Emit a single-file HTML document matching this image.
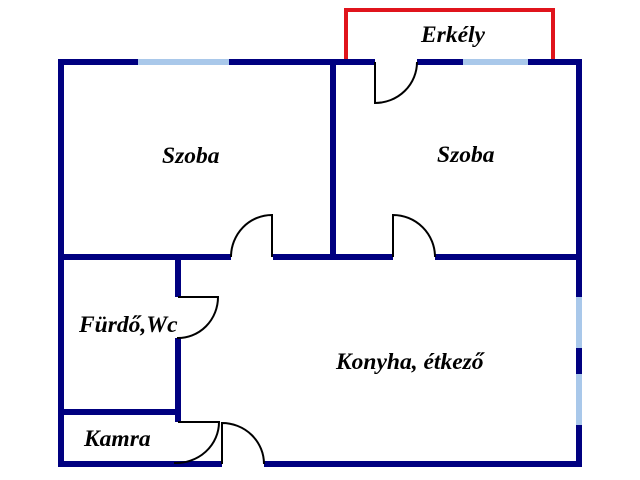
<!DOCTYPE html>
<html><head><meta charset="utf-8"><style>
html,body{margin:0;padding:0;background:#fff;}
svg{display:block;}
text{font-family:"Liberation Serif",serif;font-weight:bold;font-style:italic;font-size:23.5px;fill:#000;}
</style></head><body>
<svg width="640" height="480" viewBox="0 0 640 480">
<polyline points="346,62 346,10 553,10 553,62" fill="none" stroke="#e0141c" stroke-width="4"/>
<g stroke="#000080" stroke-width="6" fill="none" stroke-linecap="butt">
<line x1="58" y1="62" x2="375" y2="62"/>
<line x1="417" y1="62" x2="582" y2="62"/>
<line x1="61" y1="59" x2="61" y2="467"/>
<line x1="579" y1="59" x2="579" y2="467"/>
<line x1="58" y1="464" x2="222" y2="464"/>
<line x1="264" y1="464" x2="582" y2="464"/>
<line x1="333" y1="62" x2="333" y2="257"/>
<line x1="61" y1="257" x2="231" y2="257"/>
<line x1="273" y1="257" x2="393" y2="257"/>
<line x1="435" y1="257" x2="579" y2="257"/>
<line x1="178" y1="257" x2="178" y2="297"/>
<line x1="178" y1="338" x2="178" y2="422"/>
<line x1="61" y1="412" x2="178" y2="412"/>
</g>
<g stroke="#a9c8ea" stroke-width="6">
<line x1="138" y1="62" x2="229" y2="62"/>
<line x1="463" y1="62" x2="528" y2="62"/>
<line x1="579" y1="297" x2="579" y2="348"/>
<line x1="579" y1="374" x2="579" y2="425"/>
</g>
<g stroke="#000" stroke-width="2" fill="none">
<path d="M375,62 L375,103 A42,41 0 0 0 417,62"/>
<path d="M272,257 L272,215 A41,42 0 0 0 231,257"/>
<path d="M393,257 L393,215 A42,42 0 0 1 435,257"/>
<path d="M178,297 L218,297 A40,41 0 0 1 177,338"/>
<path d="M178,422 L219,422 A43,41 0 0 1 174,463"/>
<path d="M222,464 L222,423 A42,41 0 0 1 264,464"/>
</g>
<text x="421" y="42">Erkély</text>
<text x="162" y="163">Szoba</text>
<text x="437" y="162">Szoba</text>
<text x="79" y="332">Fürdő,Wc</text>
<text x="336" y="369">Konyha, étkező</text>
<text x="84" y="446">Kamra</text>
</svg>
</body></html>
